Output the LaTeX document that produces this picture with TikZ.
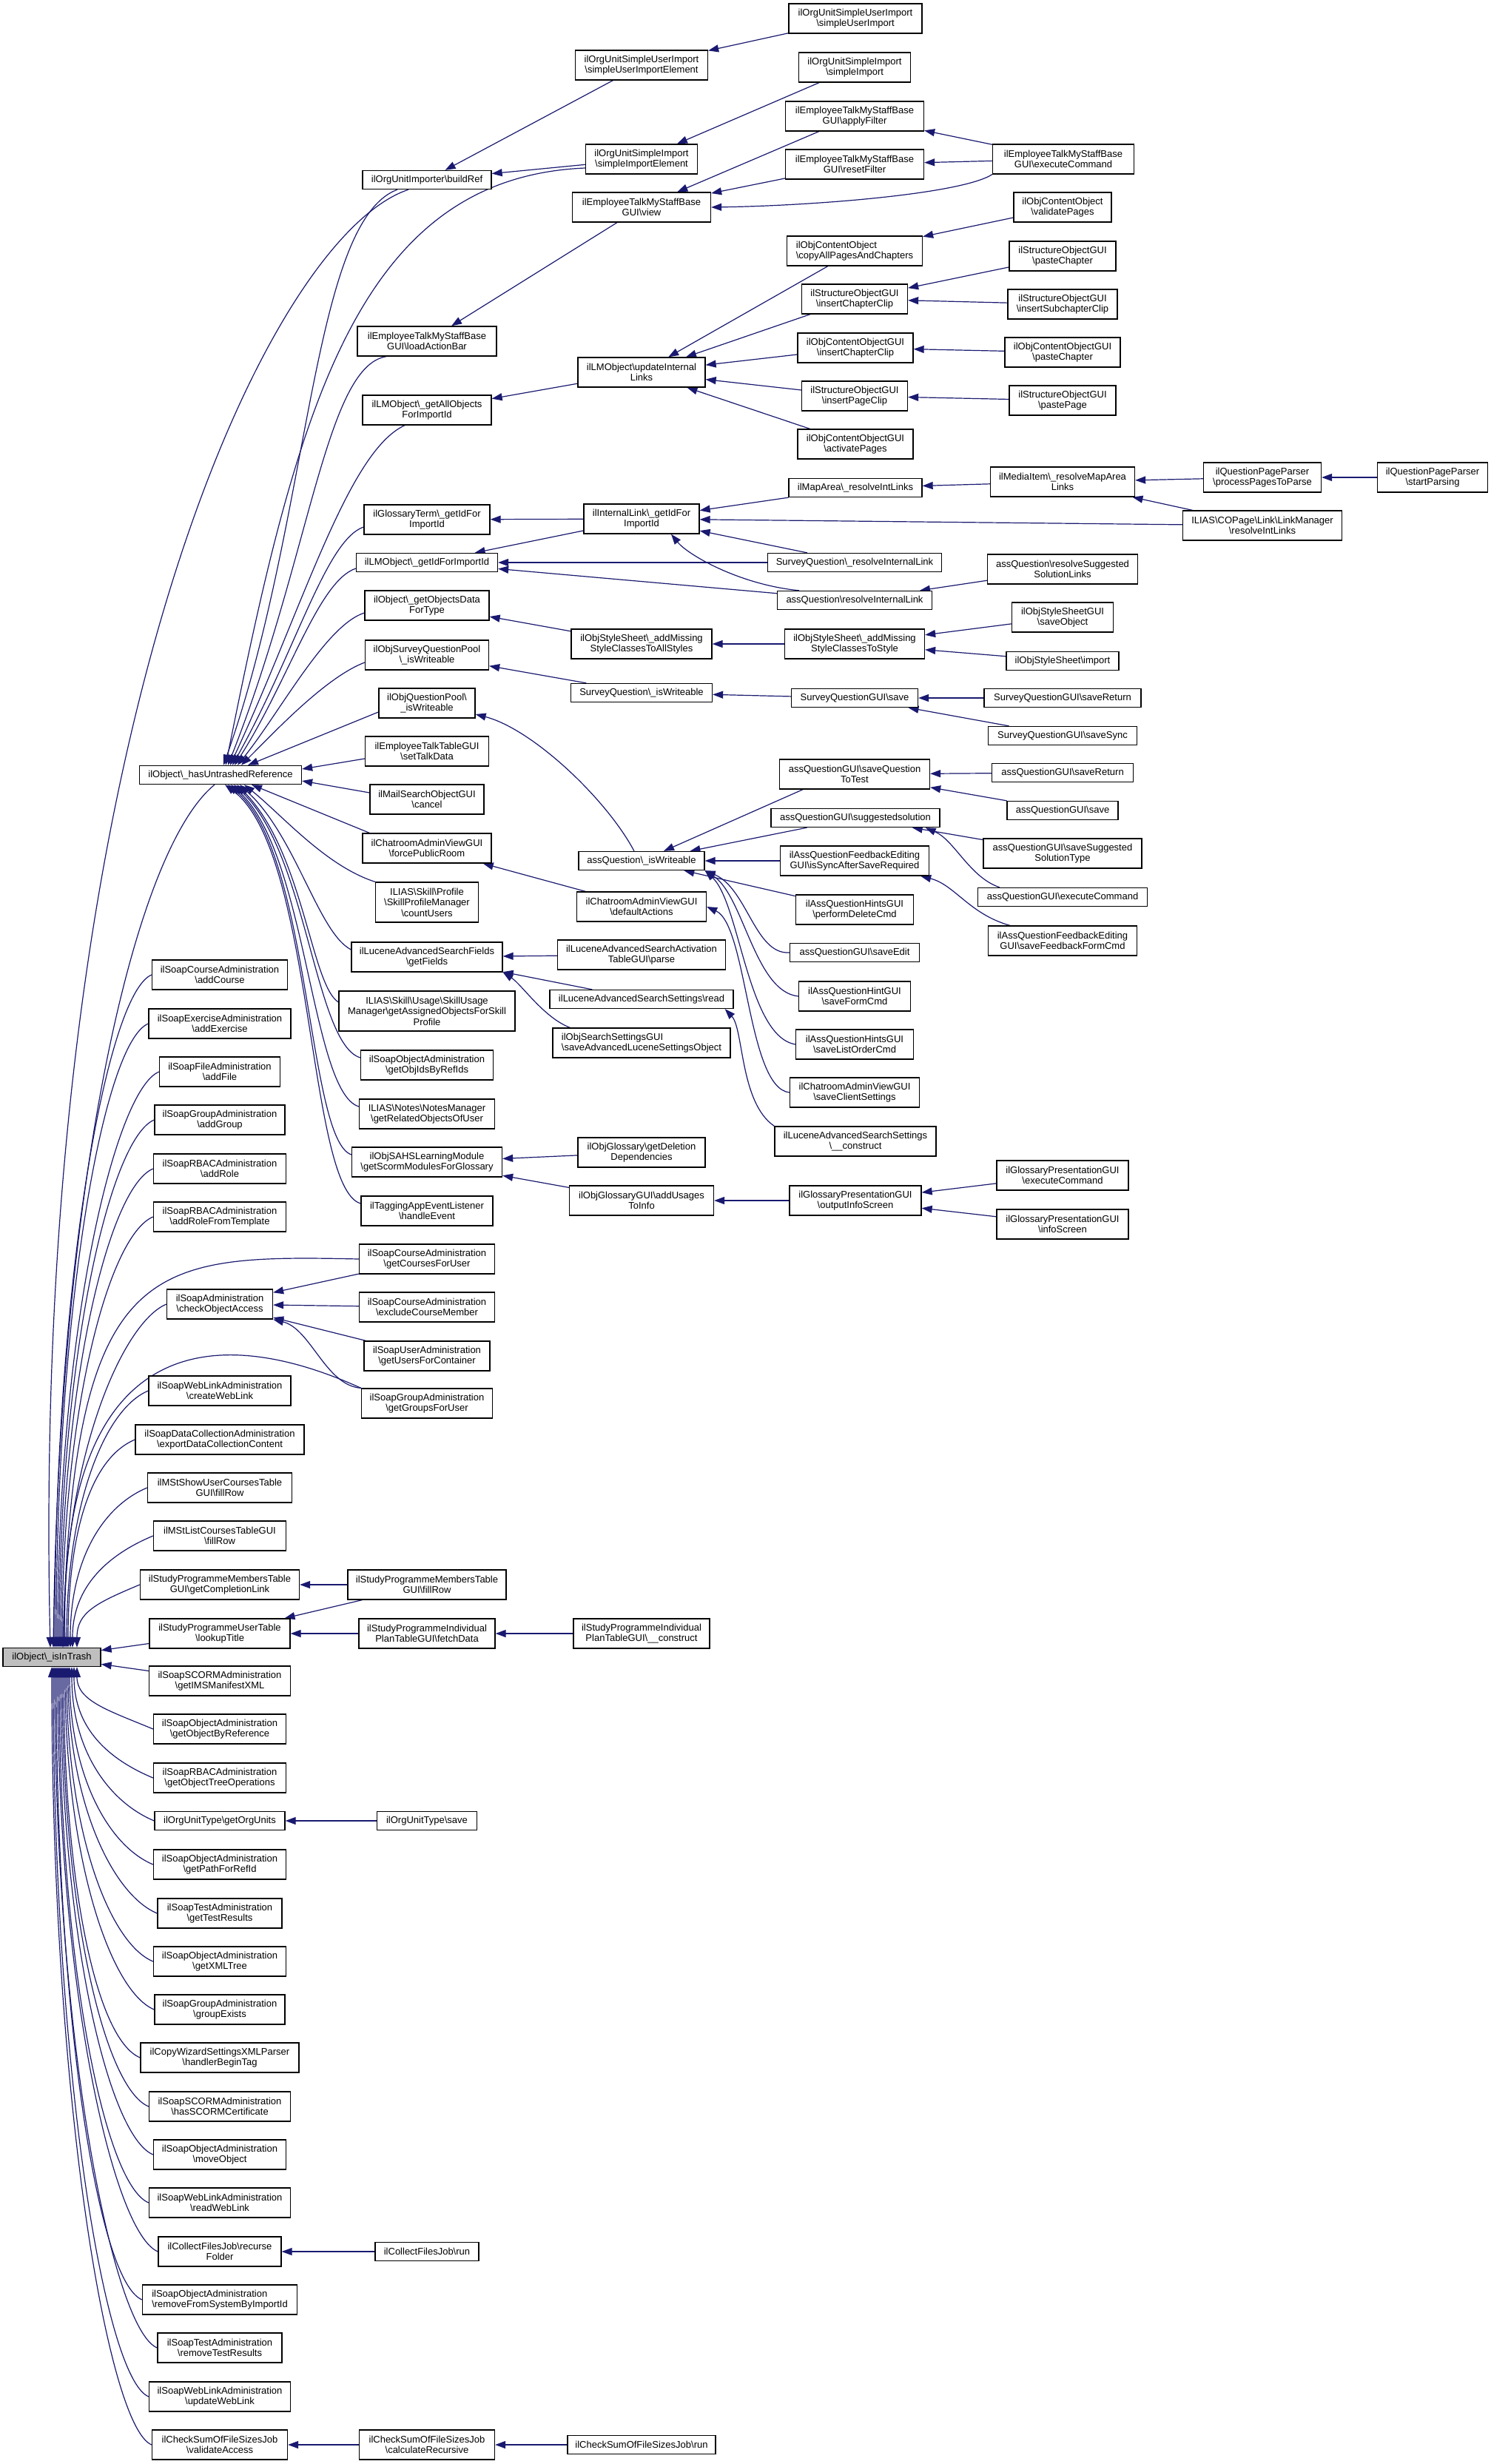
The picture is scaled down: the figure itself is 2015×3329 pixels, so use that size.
\documentclass[tikz,border=0pt]{standalone}
\usepackage{fontspec}
\setmainfont{Liberation Sans}
\usetikzlibrary{arrows.meta}
\definecolor{edgec}{RGB}{25,25,112}
\definecolor{trashgray}{RGB}{191,191,191}
\newcommand\bksl{\textbackslash}
\pgfdeclarelayer{bg}
\pgfdeclarelayer{paper}
\pgfsetlayers{paper,bg,main}
\tikzset{
  nb/.style={draw=black, line width=1.3pt, fill=white, font=\fontsize{13}{14.5}\selectfont, align=center, inner xsep=1pt, inner ysep=0pt},
  oneL/.style={nb, minimum height=25pt},
  twoL/.style={nb, minimum height=40pt},
  threeL/.style={nb, minimum height=54pt},
  cx/.style={draw=edgec, line width=1.2pt, -{Triangle[length=14pt,width=10pt]}}
}
\begin{document}
\begin{tikzpicture}[x=1pt,y=-1pt]
\begin{pgfonlayer}{paper}
\fill[white] (0,0) rectangle (2015,3329);
\end{pgfonlayer}
\useasboundingbox (0,0) rectangle (2015,3329);

% ---------------- column 1
\node[oneL, fill=trashgray, minimum width=132pt] (trash) at (70,2239) {ilObject\bksl\_isInTrash};

% ---------------- column 2
\node[oneL, minimum width=219pt] (hur) at (298,1047) {ilObject\bksl\_hasUntrashedReference};
\node[twoL, minimum width=183pt] (addCourse) at (297,1317) {ilSoapCourseAdministration\\\bksl addCourse};
\node[twoL, minimum width=192pt] (addExercise) at (297,1383) {ilSoapExerciseAdministration\\\bksl addExercise};
\node[twoL, minimum width=163pt] (addFile) at (297,1448) {ilSoapFileAdministration\\\bksl addFile};
\node[twoL, minimum width=176pt] (addGroup) at (297,1513) {ilSoapGroupAdministration\\\bksl addGroup};
\node[twoL, minimum width=179pt] (addRole) at (297,1579) {ilSoapRBACAdministration\\\bksl addRole};
\node[twoL, minimum width=179pt] (addRoleT) at (297,1644) {ilSoapRBACAdministration\\\bksl addRoleFromTemplate};
\node[twoL, minimum width=143pt] (checkAcc) at (297,1762) {ilSoapAdministration\\\bksl checkObjectAccess};
\node[twoL, minimum width=192pt] (createWL) at (297,1879) {ilSoapWebLinkAdministration\\\bksl createWebLink};
\node[twoL, minimum width=228pt] (exportDC) at (297,1945) {ilSoapDataCollectionAdministration\\\bksl exportDataCollectionContent};
\node[twoL, minimum width=195pt] (mstShow) at (297,2010) {ilMStShowUserCoursesTable\\GUI\bksl fillRow};
\node[twoL, minimum width=179pt] (mstList) at (297,2075) {ilMStListCoursesTableGUI\\\bksl fillRow};
\node[twoL, minimum width=215pt] (complLink) at (297,2141) {ilStudyProgrammeMembersTable\\GUI\bksl getCompletionLink};
\node[twoL, minimum width=190pt] (lookupT) at (297,2207) {ilStudyProgrammeUserTable\\\bksl lookupTitle};
\node[twoL, minimum width=191pt] (imsMan) at (297,2271) {ilSoapSCORMAdministration\\\bksl getIMSManifestXML};
\node[twoL, minimum width=179pt] (objByRef) at (297,2336) {ilSoapObjectAdministration\\\bksl getObjectByReference};
\node[twoL, minimum width=179pt] (objTree) at (297,2402) {ilSoapRBACAdministration\\\bksl getObjectTreeOperations};
\node[oneL, minimum width=176pt] (orgUnits) at (297,2460) {ilOrgUnitType\bksl getOrgUnits};
\node[twoL, minimum width=179pt] (pathRef) at (297,2519) {ilSoapObjectAdministration\\\bksl getPathForRefId};
\node[twoL, minimum width=168pt] (testRes) at (297,2585) {ilSoapTestAdministration\\\bksl getTestResults};
\node[twoL, minimum width=179pt] (xmlTree) at (297,2650) {ilSoapObjectAdministration\\\bksl getXMLTree};
\node[twoL, minimum width=176pt] (groupEx) at (297,2715) {ilSoapGroupAdministration\\\bksl groupExists};
\node[twoL, minimum width=214pt] (handlerBT) at (297,2780) {ilCopyWizardSettingsXMLParser\\\bksl handlerBeginTag};
\node[twoL, minimum width=191pt] (hasSCORM) at (297,2846) {ilSoapSCORMAdministration\\\bksl hasSCORMCertificate};
\node[twoL, minimum width=179pt] (moveObj) at (297,2911) {ilSoapObjectAdministration\\\bksl moveObject};
\node[twoL, minimum width=191pt] (readWL) at (297,2976) {ilSoapWebLinkAdministration\\\bksl readWebLink};
\node[twoL, minimum width=166pt] (recurseF) at (297,3042) {ilCollectFilesJob\bksl recurse\\Folder};
\node[twoL, minimum width=209pt, align=left] (removeSys) at (297,3107) {ilSoapObjectAdministration\\\bksl removeFromSystemByImportId};
\node[twoL, minimum width=168pt] (removeTR) at (297,3172) {ilSoapTestAdministration\\\bksl removeTestResults};
\node[twoL, minimum width=191pt] (updateWL) at (297,3238) {ilSoapWebLinkAdministration\\\bksl updateWebLink};
\node[twoL, minimum width=183pt] (validAcc) at (297,3303) {ilCheckSumOfFileSizesJob\\\bksl validateAccess};

% ---------------- column 3
\node[oneL, minimum width=174pt] (buildRef) at (577,243) {ilOrgUnitImporter\bksl buildRef};
\node[twoL, minimum width=188pt] (loadAB) at (577,461) {ilEmployeeTalkMyStaffBase\\GUI\bksl loadActionBar};
\node[twoL, minimum width=174pt] (allObj) at (577,554) {ilLMObject\bksl\_getAllObjects\\ForImportId};
\node[twoL, minimum width=170pt] (glossT) at (577,702) {ilGlossaryTerm\bksl\_getIdFor\\ImportId};
\node[oneL, minimum width=191pt] (lmGetId) at (577,760) {ilLMObject\bksl\_getIdForImportId};
\node[twoL, minimum width=168pt] (objData) at (577,818) {ilObject\bksl\_getObjectsData\\ForType};
\node[twoL, minimum width=167pt] (surveyPool) at (577,885) {ilObjSurveyQuestionPool\\\bksl\_isWriteable};
\node[twoL, minimum width=130pt] (qPool) at (577,950) {ilObjQuestionPool\bksl\\\_isWriteable};
\node[twoL, minimum width=167pt] (setTalk) at (577,1015) {ilEmployeeTalkTableGUI\\\bksl setTalkData};
\node[twoL, minimum width=154pt] (mailCancel) at (577,1080) {ilMailSearchObjectGUI\\\bksl cancel};
\node[twoL, minimum width=174pt] (forcePR) at (577,1146) {ilChatroomAdminViewGUI\\\bksl forcePublicRoom};
\node[threeL, minimum width=139pt] (countU) at (577,1219) {ILIAS\bksl Skill\bksl Profile\\\bksl SkillProfileManager\\\bksl countUsers};
\node[twoL, minimum width=204pt] (getFields) at (577,1293) {ilLuceneAdvancedSearchFields\\\bksl getFields};
\node[threeL, minimum width=238pt] (skillUsage) at (577,1366) {ILIAS\bksl Skill\bksl Usage\bksl SkillUsage\\Manager\bksl getAssignedObjectsForSkill\\Profile};
\node[twoL, minimum width=179pt] (objIds) at (577,1439) {ilSoapObjectAdministration\\\bksl getObjIdsByRefIds};
\node[twoL, minimum width=183pt] (notesM) at (577,1505) {ILIAS\bksl Notes\bksl NotesManager\\\bksl getRelatedObjectsOfUser};
\node[twoL, minimum width=203pt] (sahs) at (577,1570) {ilObjSAHSLearningModule\\\bksl getScormModulesForGlossary};
\node[twoL, minimum width=178pt] (tagging) at (577,1636) {ilTaggingAppEventListener\\\bksl handleEvent};
\node[twoL, minimum width=183pt] (coursesU) at (577,1701) {ilSoapCourseAdministration\\\bksl getCoursesForUser};
\node[twoL, minimum width=183pt] (exclCM) at (577,1766) {ilSoapCourseAdministration\\\bksl excludeCourseMember};
\node[twoL, minimum width=170pt] (usersC) at (577,1832) {ilSoapUserAdministration\\\bksl getUsersForContainer};
\node[twoL, minimum width=177pt] (groupsU) at (577,1896) {ilSoapGroupAdministration\\\bksl getGroupsForUser};
\node[twoL, minimum width=214pt] (spmFill) at (577,2141) {ilStudyProgrammeMembersTable\\GUI\bksl fillRow};
\node[twoL, minimum width=184pt] (fetchD) at (577,2207) {ilStudyProgrammeIndividual\\PlanTableGUI\bksl fetchData};
\node[oneL, minimum width=135pt] (outSave) at (577,2460) {ilOrgUnitType\bksl save};
\node[oneL, minimum width=140pt] (cfjRun) at (577,3042) {ilCollectFilesJob\bksl run};
\node[twoL, minimum width=183pt] (calcRec) at (577,3303) {ilCheckSumOfFileSizesJob\\\bksl calculateRecursive};

% ---------------- column 4
\node[twoL, minimum width=179pt] (sUIE) at (867,88) {ilOrgUnitSimpleUserImport\\\bksl simpleUserImportElement};
\node[twoL, minimum width=151pt] (sIE) at (867,215) {ilOrgUnitSimpleImport\\\bksl simpleImportElement};
\node[twoL, minimum width=187pt] (view) at (867,280) {ilEmployeeTalkMyStaffBase\\GUI\bksl view};
\node[twoL, minimum width=172pt] (updIL) at (867,503) {ilLMObject\bksl updateInternal\\Links};
\node[twoL, minimum width=156pt] (intLink) at (867,701) {ilInternalLink\bksl\_getIdFor\\ImportId};
\node[twoL, minimum width=190pt] (allStyles) at (867,870) {ilObjStyleSheet\bksl\_addMissing\\StyleClassesToAllStyles};
\node[oneL, minimum width=191pt] (sqIsW) at (867,936) {SurveyQuestion\bksl\_isWriteable};
\node[oneL, minimum width=170pt] (aqIsW) at (867,1163) {assQuestion\bksl\_isWriteable};
\node[twoL, minimum width=175pt] (defAct) at (867,1225) {ilChatroomAdminViewGUI\\\bksl defaultActions};
\node[twoL, minimum width=227pt] (luceneParse) at (867,1290) {ilLuceneAdvancedSearchActivation\\TableGUI\bksl parse};
\node[oneL, minimum width=248pt] (luceneRead) at (867,1350) {ilLuceneAdvancedSearchSettings\bksl read};
\node[twoL, minimum width=240pt, align=left] (saveAdv) at (867,1409) {ilObjSearchSettingsGUI\\\bksl saveAdvancedLuceneSettingsObject};
\node[twoL, minimum width=172pt] (getDelDep) at (867,1557) {ilObjGlossary\bksl getDeletion\\Dependencies};
\node[twoL, minimum width=195pt] (addUsages) at (867,1622) {ilObjGlossaryGUI\bksl addUsages\\ToInfo};
\node[twoL, minimum width=184pt] (indConstr) at (867,2207) {ilStudyProgrammeIndividual\\PlanTableGUI\bksl\_\_construct};
\node[oneL, minimum width=200pt] (cscRun) at (867,3303) {ilCheckSumOfFileSizesJob\bksl run};

% ---------------- column 5
\node[twoL, minimum width=180pt] (sUI) at (1156,25) {ilOrgUnitSimpleUserImport\\\bksl simpleUserImport};
\node[twoL, minimum width=151pt] (sI) at (1155,91) {ilOrgUnitSimpleImport\\\bksl simpleImport};
\node[twoL, minimum width=187pt] (applyF) at (1155,157) {ilEmployeeTalkMyStaffBase\\GUI\bksl applyFilter};
\node[twoL, minimum width=187pt] (resetF) at (1155,222) {ilEmployeeTalkMyStaffBase\\GUI\bksl resetFilter};
\node[twoL, minimum width=183pt, align=left] (copyAll) at (1155,339) {ilObjContentObject\\\bksl copyAllPagesAndChapters};
\node[twoL, minimum width=143pt] (sogInsCh) at (1155,404) {ilStructureObjectGUI\\\bksl insertChapterClip};
\node[twoL, minimum width=156pt] (cogInsCh) at (1156,470) {ilObjContentObjectGUI\\\bksl insertChapterClip};
\node[twoL, minimum width=143pt] (insPage) at (1155,535) {ilStructureObjectGUI\\\bksl insertPageClip};
\node[twoL, minimum width=156pt] (actPages) at (1156,600) {ilObjContentObjectGUI\\\bksl activatePages};
\node[oneL, minimum width=180pt] (mapArea) at (1156,659) {ilMapArea\bksl\_resolveIntLinks};
\node[oneL, minimum width=235pt] (sqResolve) at (1155,760) {SurveyQuestion\bksl\_resolveInternalLink};
\node[oneL, minimum width=209pt] (aqResolve) at (1155,811) {assQuestion\bksl resolveInternalLink};
\node[twoL, minimum width=189pt] (toStyle) at (1155,870) {ilObjStyleSheet\bksl\_addMissing\\StyleClassesToStyle};
\node[oneL, minimum width=171pt] (sqGuiSave) at (1155,943) {SurveyQuestionGUI\bksl save};
\node[twoL, minimum width=203pt] (saveQTT) at (1155,1046) {assQuestionGUI\bksl saveQuestion\\ToTest};
\node[oneL, minimum width=228pt] (suggSol) at (1156,1105) {assQuestionGUI\bksl suggestedsolution};
\node[twoL, minimum width=201pt] (isSync) at (1155,1163) {ilAssQuestionFeedbackEditing\\GUI\bksl isSyncAfterSaveRequired};
\node[twoL, minimum width=159pt] (perfDel) at (1155,1229) {ilAssQuestionHintsGUI\\\bksl performDeleteCmd};
\node[oneL, minimum width=175pt] (saveEdit) at (1155,1287) {assQuestionGUI\bksl saveEdit};
\node[twoL, minimum width=151pt] (saveForm) at (1155,1346) {ilAssQuestionHintGUI\\\bksl saveFormCmd};
\node[twoL, minimum width=159pt] (saveListO) at (1155,1411) {ilAssQuestionHintsGUI\\\bksl saveListOrderCmd};
\node[twoL, minimum width=175pt] (saveClient) at (1155,1476) {ilChatroomAdminViewGUI\\\bksl saveClientSettings};
\node[twoL, minimum width=218pt] (luceneConstr) at (1156,1542) {ilLuceneAdvancedSearchSettings\\\bksl\_\_construct};
\node[twoL, minimum width=178pt] (outInfo) at (1156,1622) {ilGlossaryPresentationGUI\\\bksl outputInfoScreen};

% ---------------- column 6
\node[twoL, minimum width=191pt] (execCmd) at (1437,215) {ilEmployeeTalkMyStaffBase\\GUI\bksl executeCommand};
\node[twoL, minimum width=132pt] (validP) at (1436,280) {ilObjContentObject\\\bksl validatePages};
\node[twoL, minimum width=144pt] (pasteCh) at (1436,346) {ilStructureObjectGUI\\\bksl pasteChapter};
\node[twoL, minimum width=148pt] (insSub) at (1436,411) {ilStructureObjectGUI\\\bksl insertSubchapterClip};
\node[twoL, minimum width=156pt] (cogPaste) at (1436,476) {ilObjContentObjectGUI\\\bksl pasteChapter};
\node[twoL, minimum width=144pt] (pastePage) at (1436,541) {ilStructureObjectGUI\\\bksl pastePage};
\node[twoL, minimum width=195pt] (mediaItem) at (1436,651) {ilMediaItem\bksl\_resolveMapArea\\Links};
\node[twoL, minimum width=203pt] (resSugg) at (1436,769) {assQuestion\bksl resolveSuggested\\SolutionLinks};
\node[twoL, minimum width=137pt] (ssGuiSave) at (1436,834) {ilObjStyleSheetGUI\\\bksl saveObject};
\node[oneL, minimum width=152pt] (ssImport) at (1436,893) {ilObjStyleSheet\bksl import};
\node[oneL, minimum width=212pt] (sqSaveRet) at (1436,943) {SurveyQuestionGUI\bksl saveReturn};
\node[oneL, minimum width=201pt] (sqSaveSync) at (1436,994) {SurveyQuestionGUI\bksl saveSync};
\node[oneL, minimum width=191pt] (aqSaveRet) at (1436,1044) {assQuestionGUI\bksl saveReturn};
\node[oneL, minimum width=150pt] (aqSave) at (1436,1095) {assQuestionGUI\bksl save};
\node[twoL, minimum width=214pt] (saveSuggType) at (1436,1153) {assQuestionGUI\bksl saveSuggested\\SolutionType};
\node[oneL, minimum width=229pt] (aqExec) at (1436,1212) {assQuestionGUI\bksl executeCommand};
\node[twoL, minimum width=201pt] (saveFeedback) at (1436,1271) {ilAssQuestionFeedbackEditing\\GUI\bksl saveFeedbackFormCmd};
\node[twoL, minimum width=178pt] (gpExec) at (1436,1588) {ilGlossaryPresentationGUI\\\bksl executeCommand};
\node[twoL, minimum width=178pt] (gpInfo) at (1436,1654) {ilGlossaryPresentationGUI\\\bksl infoScreen};

% ---------------- columns 7, 8
\node[twoL, minimum width=159pt] (procPages) at (1706,645) {ilQuestionPageParser\\\bksl processPagesToParse};
\node[twoL, minimum width=215pt] (linkMgr) at (1706,710) {ILIAS\bksl COPage\bksl Link\bksl LinkManager\\\bksl resolveIntLinks};
\node[twoL, minimum width=149pt] (startParsing) at (1936,645) {ilQuestionPageParser\\\bksl startParsing};

\begin{pgfonlayer}{bg}
% top area
\draw[cx] (sUI) -- (sUIE);
\draw[cx] (sUIE) -- (buildRef);
\draw[cx] (sI) -- (sIE);
\draw[cx] (sIE) -- (buildRef);
\draw[cx] ([yshift=-12pt]sIE.west) .. controls (480,240) and (400,560) .. ([xshift=7pt]hur.north);
\draw[cx] ([xshift=-40pt]buildRef.south) .. controls (420,300) and (420,700) .. ([xshift=4pt]hur.north);
\draw[cx] ([xshift=-25pt]buildRef.south) .. controls (360,320) and (40,1000) .. ([xshift=-2pt]trash.north);
\draw[cx] (view) -- (loadAB);
\draw[cx] (applyF) -- (view);
\draw[cx] (resetF) -- (view);
\draw[cx] (execCmd) -- (applyF);
\draw[cx] (execCmd) -- (resetF);
\draw[cx] (execCmd.south west) .. controls (1300,262) and (1100,278) .. (view.east);
\draw[cx] ([xshift=-55pt]loadAB.south) .. controls (440,495) and (420,750) .. ([xshift=10pt]hur.north);
\draw[cx] (updIL) -- (allObj);
\draw[cx] ([xshift=-30pt]allObj.south) .. controls (470,610) and (410,820) .. ([xshift=13pt]hur.north);
\draw[cx] (copyAll) -- (updIL);
\draw[cx] (sogInsCh) -- (updIL);
\draw[cx] (cogInsCh) -- (updIL);
\draw[cx] (insPage) -- (updIL);
\draw[cx] (actPages) -- (updIL);
\draw[cx] (validP) -- (copyAll);
\draw[cx] (pasteCh) -- (sogInsCh);
\draw[cx] (insSub) -- (sogInsCh);
\draw[cx] (cogPaste) -- (cogInsCh);
\draw[cx] (pastePage) -- (insPage);

% internal links
\draw[cx] (intLink) -- (glossT);
\draw[cx] (intLink) -- (lmGetId);
\draw[cx] (sqResolve) -- (lmGetId);
\draw[cx] (aqResolve) -- (lmGetId);
\draw[cx] (mapArea) -- (intLink);
\draw[cx] (linkMgr) -- (intLink);
\draw[cx] (sqResolve) -- (intLink);
\draw[cx] ([xshift=-75pt]aqResolve.north) .. controls (1000,790) and (930,750) .. ([xshift=40pt]intLink.south);
\draw[cx] (mediaItem) -- (mapArea);
\draw[cx] (procPages) -- (mediaItem);
\draw[cx] (linkMgr) -- (mediaItem);
\draw[cx] (startParsing) -- (procPages);
\draw[cx] (resSugg) -- (aqResolve);
\draw[cx] ([yshift=-10pt]glossT.west) .. controls (440,730) and (400,880) .. ([xshift=16pt]hur.north);
\draw[cx] ([yshift=-8pt]lmGetId.west) .. controls (430,785) and (390,920) .. ([xshift=19pt]hur.north);

% styles
\draw[cx] (allStyles) -- (objData);
\draw[cx] (toStyle) -- (allStyles);
\draw[cx] (ssGuiSave) -- (toStyle);
\draw[cx] (ssImport) -- (toStyle);
\draw[cx] ([yshift=-10pt]objData.west) .. controls (440,845) and (380,960) .. ([xshift=23pt]hur.north);

% survey
\draw[cx] (sqIsW) -- (surveyPool);
\draw[cx] (sqGuiSave) -- (sqIsW);
\draw[cx] (sqSaveRet) -- (sqGuiSave);
\draw[cx] (sqSaveSync) -- (sqGuiSave);
\draw[cx] ([yshift=-10pt]surveyPool.west) .. controls (440,915) and (370,990) .. ([xshift=28pt]hur.north);

% assQuestion
\draw[cx] ([xshift=-10pt]aqIsW.north) .. controls (820,1080) and (720,985) .. ([yshift=-15pt]qPool.east);
\draw[cx] ([yshift=-12pt]qPool.west) -- ([xshift=37pt]hur.north);
\draw[cx] ([xshift=-70pt]saveQTT.south) -- ([xshift=30pt]aqIsW.north);
\draw[cx] (suggSol) -- (aqIsW);
\draw[cx] (isSync) -- (aqIsW);
\draw[cx] (perfDel) -- (aqIsW);
\draw[cx] (saveEdit.west) .. controls (1020,1290) and (1010,1200) .. (aqIsW.south east);
\draw[cx] (saveForm.west) .. controls (1020,1340) and (1005,1210) .. (aqIsW.south east);
\draw[cx] (saveListO.west) .. controls (1010,1400) and (1000,1220) .. (aqIsW.south east);
\draw[cx] (aqSaveRet) -- (saveQTT);
\draw[cx] (aqSave) -- (saveQTT);
\draw[cx] (saveSuggType) -- (suggSol);
\draw[cx] ([xshift=30pt]aqExec.north west) .. controls (1310,1185) and (1290,1135) .. ([xshift=-20pt]suggSol.south east);
\draw[cx] ([xshift=30pt]saveFeedback.north west) .. controls (1310,1235) and (1290,1195) .. ([xshift=-12pt]isSync.south east);

% talk / mail / chatroom
\draw[cx] ([yshift=-10pt]setTalk.west) -- ([yshift=8pt]hur.east);
\draw[cx] ([yshift=9pt]mailCancel.west) -- ([yshift=-8pt]hur.east);
\draw[cx] ([xshift=10pt]forcePR.north west) -- ([xshift=42pt]hur.south);
\draw[cx] (defAct) -- (forcePR);
\draw[cx] (saveClient.west) .. controls (1010,1470) and (1010,1250) .. (defAct.east);
\draw[cx] (countU.north west) .. controls (440,1170) and (380,1100) .. ([xshift=32pt]hur.south);

% lucene
\draw[cx] ([yshift=10pt]getFields.west) .. controls (430,1260) and (400,1130) .. ([xshift=26pt]hur.south);
\draw[cx] (luceneParse) -- (getFields);
\draw[cx] (luceneRead) -- (getFields);
\draw[cx] ([xshift=24pt]saveAdv.north west) .. controls (735,1375) and (705,1330) .. (getFields.south east);
\draw[cx] (luceneConstr.north west) .. controls (1000,1490) and (1005,1390) .. ([xshift=-12pt]luceneRead.south east);

% others into hasUntrashedReference
\draw[cx] ([yshift=12pt]skillUsage.west) .. controls (420,1330) and (410,1150) .. ([xshift=22pt]hur.south);
\draw[cx] ([yshift=10pt]objIds.west) .. controls (425,1410) and (415,1150) .. ([xshift=18pt]hur.south);
\draw[cx] ([yshift=10pt]notesM.west) .. controls (420,1475) and (415,1150) .. ([xshift=14pt]hur.south);
\draw[cx] ([yshift=10pt]sahs.west) .. controls (415,1540) and (420,1150) .. ([xshift=10pt]hur.south);
\draw[cx] ([yshift=10pt]tagging.west) .. controls (415,1605) and (425,1150) .. ([xshift=6pt]hur.south);

% glossary
\draw[cx] (getDelDep) -- (sahs);
\draw[cx] (addUsages) -- (sahs);
\draw[cx] (outInfo) -- (addUsages);
\draw[cx] (gpExec) -- (outInfo);
\draw[cx] (gpInfo) -- (outInfo);

% soap check access
\draw[cx] (coursesU) -- (checkAcc);
\draw[cx] (exclCM) -- (checkAcc);
\draw[cx] (usersC) -- (checkAcc);
\draw[cx] (groupsU.north west) .. controls (440,1872) and (420,1795) .. (checkAcc.south east);
\draw[cx] (coursesU.west) .. controls (200,1695) and (100,1700) .. ([xshift=15pt]trash.north);
\draw[cx] (groupsU.north west) .. controls (300,1790) and (80,1790) .. ([xshift=18pt]trash.north);

% hasUntrashedReference -> isInTrash
\draw[cx] ([xshift=-8pt]hur.south) .. controls (180,1150) and (80,1600) .. ([xshift=2pt]trash.north);

% lower chains
\draw[cx] (spmFill) -- (complLink);
\draw[cx] (spmFill) -- (lookupT);
\draw[cx] (fetchD) -- (lookupT);
\draw[cx] (indConstr) -- (fetchD);
\draw[cx] (outSave) -- (orgUnits);
\draw[cx] (cfjRun) -- (recurseF);
\draw[cx] (calcRec) -- (validAcc);
\draw[cx] (cscRun) -- (calcRec);
\draw[cx] (lookupT) -- (trash);
\draw[cx] (imsMan) -- (trash);

% fan into isInTrash from above
\foreach \n/\d/\k in {addCourse/4/500, addExercise/6/464, addFile/8/428, addGroup/10/392, addRole/12/356, addRoleT/14/320, checkAcc/16/255, createWL/20/191, exportDC/22/155, mstShow/25/119, mstList/28/83, complLink/34/47}
  \draw[cx] (\n.west) .. controls +(-60,25) and +(0,-\k) .. ([xshift=\d pt]trash.north);
% fan into isInTrash from below
\foreach \n/\d/\k in {objByRef/34/46, objTree/30/83, orgUnits/27/114, pathRef/24/147, testRes/22/183, xmlTree/20/219, groupEx/18/255, handlerBT/16/290, hasSCORM/14/327, moveObj/12/362, readWL/10/398, recurseF/8/435, removeSys/6/470, removeTR/4/506, updateWL/2/542, validAcc/0/578}
  \draw[cx] (\n.west) .. controls +(-60,-25) and +(0,\k) .. ([xshift=\d pt]trash.south);
\end{pgfonlayer}
\end{tikzpicture}
\end{document}
